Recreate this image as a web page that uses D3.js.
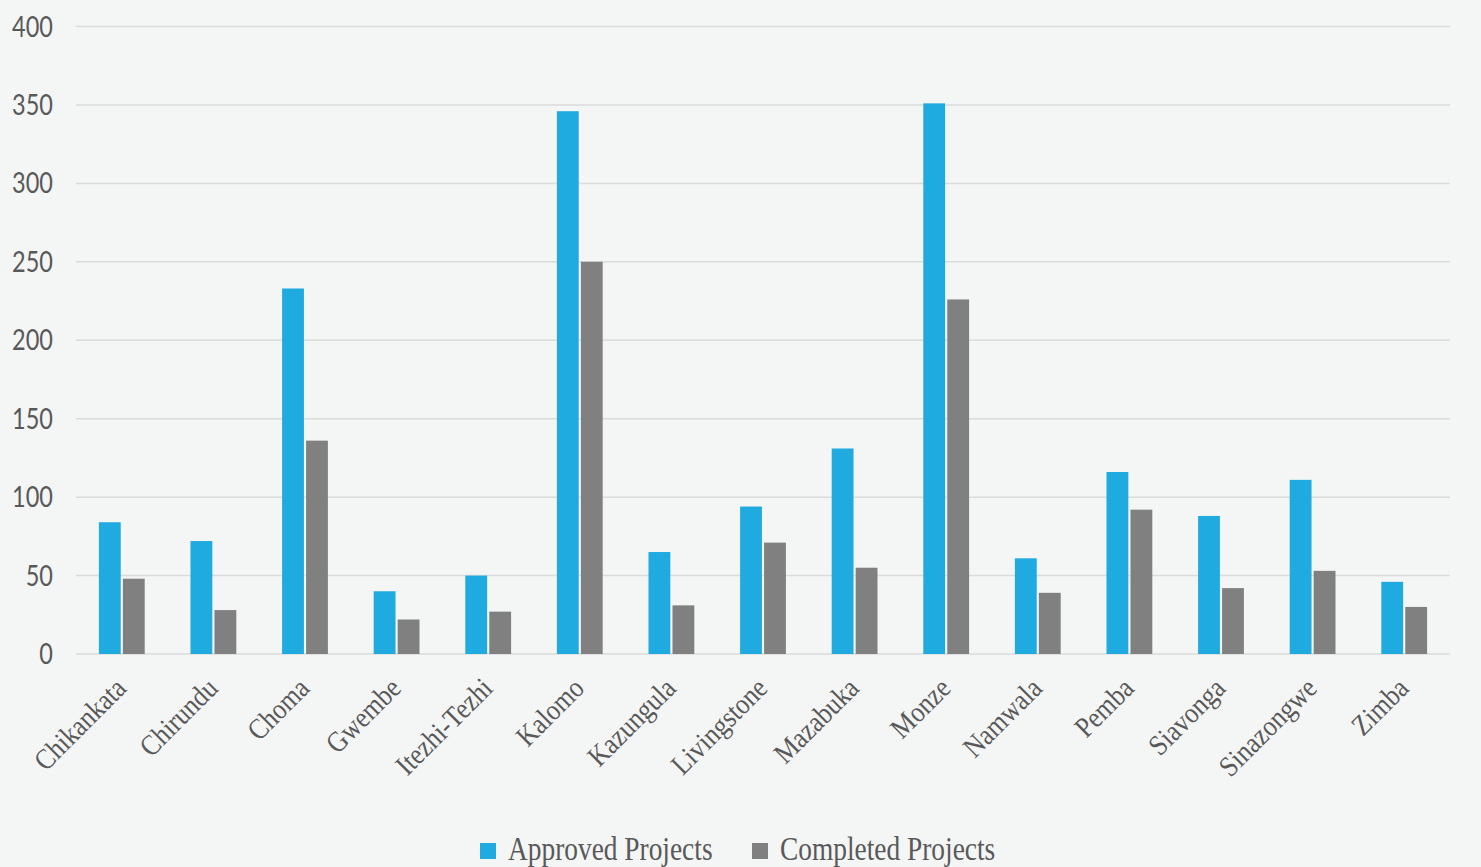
<!DOCTYPE html>
<html>
<head>
<meta charset="utf-8">
<script src="https://cdn.jsdelivr.net/npm/d3@7"></script>
<style>
  html, body { margin: 0; padding: 0; background: #f4f5f5; }
  svg { display: block; }
</style>
</head>
<body>
<script>
// Districts of Southern Province and their project counts
const districts = ["Chikankata", "Chirundu", "Choma", "Gwembe", "Itezhi-Tezhi", "Kalomo",
  "Kazungula", "Livingstone", "Mazabuka", "Monze", "Namwala", "Pemba", "Siavonga",
  "Sinazongwe", "Zimba"];
const approved  = [84, 72, 233, 40, 50, 346, 65, 94, 131, 351, 61, 116, 88, 111, 46];
const completed = [48, 28, 136, 22, 27, 250, 31, 71, 55, 226, 39, 92, 42, 53, 30];
const seriesNames = ["Approved Projects", "Completed Projects"];
const seriesColors = ["#1faae0", "#7f807f"];
const yTicks = [0, 50, 100, 150, 200, 250, 300, 350, 400];

const W = 1481, H = 867;
const plot = { left: 76, right: 1450, top: 26.5, bottom: 654 };

const svg = d3.select("body").append("svg").attr("width", W).attr("height", H);
svg.append("rect").attr("width", W).attr("height", H).attr("fill", "#f4f5f5");

const y = d3.scaleLinear().domain([0, 400]).range([plot.bottom, plot.top]);
const x0 = d3.scaleBand().domain(districts).range([plot.left, plot.right])
  .paddingInner(0.5).paddingOuter(0.25);
const x1 = d3.scaleBand().domain(seriesNames).range([0, x0.bandwidth()]).paddingInner(0.09);

// Horizontal gridlines
svg.append("g").selectAll("line").data(yTicks).join("line")
  .attr("x1", plot.left).attr("x2", plot.right)
  .attr("y1", d => y(d)).attr("y2", d => y(d))
  .attr("stroke", "#dadbdb").attr("stroke-width", 1.5);

// Y tick labels
svg.append("g").selectAll("text").data(yTicks).join("text")
  .attr("transform", d => `translate(53,${y(d)}) scale(0.84,1)`)
  .attr("text-anchor", "end").attr("dy", "0.36em")
  .attr("font-family", "Lato, 'Liberation Sans', sans-serif").attr("font-size", 28)
  .attr("fill", "#595959")
  .text(d => d);

// Bars
const rows = districts.map((d, i) => ({ district: d, values: [approved[i], completed[i]] }));
const groups = svg.append("g").selectAll("g").data(rows).join("g")
  .attr("transform", d => `translate(${x0(d.district)},0)`);
groups.selectAll("rect").data(d => d.values.map((v, k) => ({ key: seriesNames[k], v, k })))
  .join("rect")
  .attr("x", d => x1(d.key))
  .attr("width", x1.bandwidth())
  .attr("y", d => y(d.v))
  .attr("height", d => y(0) - y(d.v))
  .attr("fill", d => seriesColors[d.k]);

// Category labels, rotated
svg.append("g").selectAll("text").data(districts).join("text")
  .attr("transform", d => `translate(${x0(d) + x0.bandwidth() / 2 + 6},690) rotate(-45) scale(0.88,1)`)
  .attr("text-anchor", "end")
  .attr("font-family", "'Liberation Serif', 'Times New Roman', serif").attr("font-size", 29)
  .attr("fill", "#595959")
  .text(d => d);

// Legend
const legendX = [480, 752];
const legend = svg.append("g").selectAll("g").data(seriesNames).join("g")
  .attr("transform", (d, i) => `translate(${legendX[i]},0)`);
legend.append("rect").attr("x", 0).attr("y", 843).attr("width", 16).attr("height", 16)
  .attr("fill", (d, i) => seriesColors[i]);
legend.append("text")
  .attr("transform", "translate(28,860) scale(0.83,1)")
  .attr("font-family", "'Liberation Serif', 'Times New Roman', serif").attr("font-size", 33)
  .attr("fill", "#595959")
  .text(d => d);
</script>
</body>
</html>
